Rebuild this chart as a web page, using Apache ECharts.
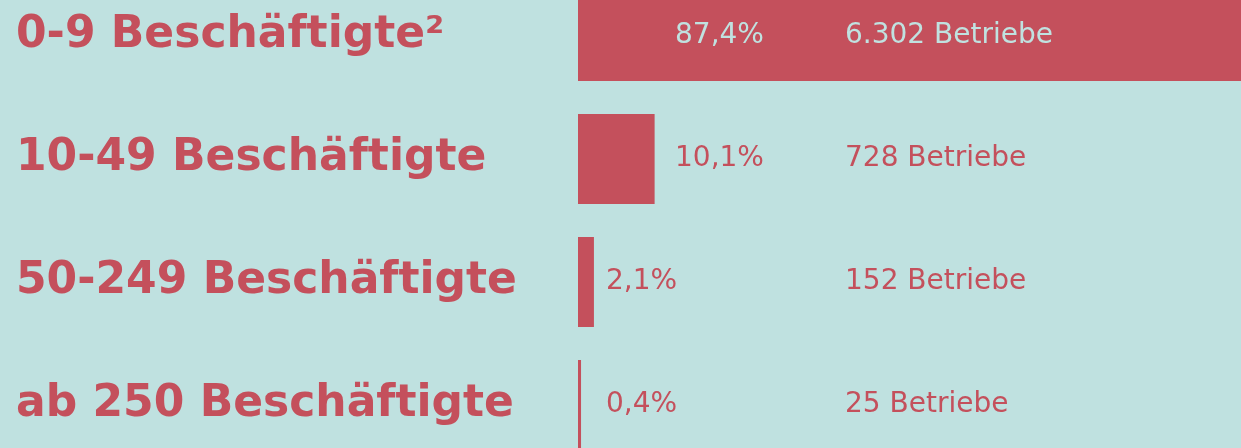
<!DOCTYPE html>
<html>
<head>
<meta charset="utf-8">
<script src="https://cdn.jsdelivr.net/npm/echarts@6/dist/echarts.min.js"></script>
<style>
  html, body { margin: 0; padding: 0; background: #bfe1e0; }
  #chart { width: 1241px; height: 448px; }
</style>
</head>
<body>
<div id="chart"></div>
<script>
// Betriebsgrößen
const categories = ['0-9 Beschäftigte²', '10-49 Beschäftigte', '50-249 Beschäftigte', 'ab 250 Beschäftigte']
const shares = [87.4, 10.1, 2.1, 0.4]
const betriebe = [6302, 728, 152, 25]

const red = '#c4505c'
const light = '#c0e2e0'
const font = 'DejaVu Sans'

const fmtPct = v => v.toFixed(1).replace('.', ',') + '%'
const fmtCount = v => v.toLocaleString('de-DE') + ' Betriebe'

const chart = echarts.init(document.getElementById('chart'))

chart.setOption({
  backgroundColor: '#bfe1e0',
  animation: false,
  grid: { left: 578, right: 0, top: -25.5, height: 492, outerBoundsMode: 'none' },
  xAxis: { type: 'value', min: 0, max: 87.4, show: false },
  yAxis: {
    type: 'category',
    inverse: true,
    data: categories,
    axisLine: { show: false },
    axisTick: { show: false },
    splitLine: { show: false },
    axisLabel: {
      align: 'left',
      margin: 562,
      color: red,
      fontFamily: font,
      fontWeight: 'bold',
      fontSize: 44,
      padding: [0, 0, 10, 0]
    }
  },
  series: [
    {
      type: 'bar',
      barWidth: 90,
      itemStyle: { color: red },
      data: shares.map((v, i) => ({
        value: v,
        label: {
          show: true,
          position: [i < 2 ? 97 : 28, '50%'],
          verticalAlign: 'middle',
          formatter: p => fmtPct(p.value),
          color: i === 0 ? light : red,
          fontFamily: font,
          fontSize: 28
        }
      }))
    },
    {
      type: 'bar',
      barWidth: 90,
      barGap: '-100%',
      silent: true,
      itemStyle: { color: 'rgba(0,0,0,0)' },
      data: shares.map((v, i) => ({
        value: v,
        label: {
          show: true,
          position: [267, '50%'],
          verticalAlign: 'middle',
          formatter: () => fmtCount(betriebe[i]),
          color: i === 0 ? light : red,
          fontFamily: font,
          fontSize: 28
        }
      }))
    }
  ]
})
</script>
</body>
</html>
